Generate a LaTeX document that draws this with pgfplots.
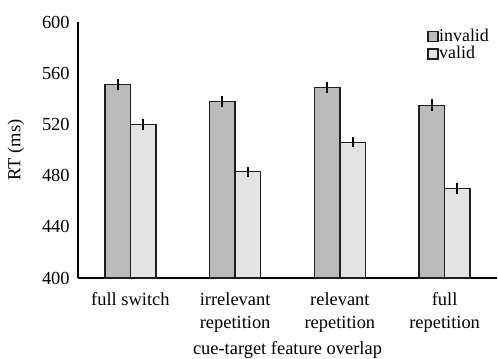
\documentclass[border=0pt]{standalone}
\usepackage{pgfplots}
\pgfplotsset{compat=1.18}
\usepackage{fontspec}
\setmainfont{Liberation Serif}
\usetikzlibrary{calc}
\definecolor{inv}{HTML}{BBBBBB}
\definecolor{val}{HTML}{E3E3E3}
\definecolor{edge}{HTML}{1E1E1E}
\begin{document}
\fontsize{18.5}{23}\selectfont
\begin{tikzpicture}
\begin{axis}[
  scale only axis, width=419bp, height=256bp,
  xmin=-0.5, xmax=3.5, ymin=400, ymax=600,
  ybar, bar width=25.5bp,
  axis lines=left, axis line style={-, line width=2bp, black},
  ytick={400,440,480,520,560,600},
  xtick={0,1,2,3},
  xticklabels={full switch, irrelevant\\repetition, relevant\\repetition, full\\repetition},
  xticklabel style={align=center, text depth=0pt, yshift=-8bp},
  yticklabel style={xshift=-2bp},
  major tick length=0pt,
  ticklabel style={font=\fontsize{18.5}{23}\selectfont},
  /pgf/number format/assume math mode=true,
  ylabel={RT (ms)},
  ylabel style={font=\fontsize{18.5}{23}\selectfont, at={(rel axis cs:0,0.5)}, yshift=62bp, anchor=center},
  xlabel={cue-target feature overlap},
  xlabel style={font=\fontsize{18.5}{23}\selectfont, at={(rel axis cs:0.5,0)}, yshift=-72bp, anchor=center},
  legend style={at={(rel axis cs:0.833,0.972)}, anchor=north west, draw=none, fill=none,
    font=\fontsize{18}{20}\selectfont, inner sep=0pt, row sep=1.5bp,
    nodes={inner sep=0.3bp, text height=11.5bp, text depth=3.5bp},
    /tikz/every even column/.append style={column sep=0pt}},
  legend cell align=left,
  legend image code/.code={\draw[#1, line width=1.6bp] (0bp,-4.5bp) rectangle (10bp,5.5bp);},
  clip=false,
]
\addplot[bar shift=-12.75bp, fill=inv, draw=edge, line width=1.4bp,
  error bars/.cd, y dir=both, y explicit, error mark=none,
  error bar style={line width=2.2bp, black}]
  coordinates {(0,551) +- (0,4.5) (1,538) +- (0,4.5) (2,549) +- (0,4.5) (3,535) +- (0,4.5)};
\addlegendentry{invalid}
\addplot[bar shift=12.75bp, fill=val, draw=edge, line width=1.4bp,
  error bars/.cd, y dir=both, y explicit, error mark=none,
  error bar style={line width=2.2bp, black}]
  coordinates {(0,520) +- (0,4) (1,483) +- (0,4) (2,506) +- (0,4) (3,470) +- (0,4)};
\addlegendentry{valid}
\coordinate (bl) at (rel axis cs:0,0);
\coordinate (tr) at (rel axis cs:1,1);
\end{axis}
\pgfresetboundingbox
\path ($(bl)+(-78bp,-81bp)$) rectangle ($(tr)+(1bp,22bp)$);
\end{tikzpicture}
\end{document}
